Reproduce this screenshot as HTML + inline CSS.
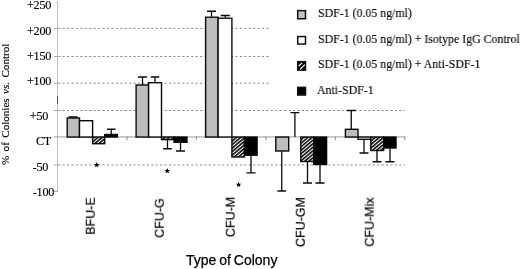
<!DOCTYPE html>
<html><head><meta charset="utf-8"><title>chart</title>
<style>
html,body{margin:0;padding:0;background:#fff;}
body{width:520px;height:269px;position:relative;overflow:hidden;font-family:"Liberation Serif",serif;color:#000;}
.t{position:absolute;white-space:nowrap;line-height:1;opacity:0.999;will-change:transform;-webkit-text-stroke:0.15px #000;}
.yl{font-family:"Liberation Serif",serif;font-size:12.2px;letter-spacing:-0.3px;text-align:right;width:40px;left:9.5px;}
.lg{font-family:"Liberation Serif",serif;font-size:12.9px;left:317.5px;transform:scaleX(0.919);transform-origin:0 0;}
.xl{font-family:"Liberation Sans",sans-serif;font-size:12.5px;transform:translate(-50%,-50%) rotate(-90deg);-webkit-text-stroke:0.2px #000;}
</style></head><body>
<svg width="520" height="269" viewBox="0 0 520 269" style="position:absolute;left:0;top:0">
<defs><pattern id="hatch" width="2.7" height="2.7" patternUnits="userSpaceOnUse" patternTransform="rotate(-40)"><rect width="2.7" height="2.7" fill="#fff"/><rect width="2.7" height="1.55" fill="#000"/></pattern></defs>
<line x1="62.6" y1="28.4" x2="405" y2="28.4" stroke="#8e8e8e" stroke-width="1" stroke-dasharray="2.2 2.23"/>
<line x1="54" y1="28.4" x2="60.6" y2="28.4" stroke="#9a9a9a" stroke-width="0.9"/>
<line x1="62.6" y1="56.5" x2="405" y2="56.5" stroke="#8e8e8e" stroke-width="1" stroke-dasharray="2.2 2.23"/>
<line x1="54" y1="56.5" x2="60.6" y2="56.5" stroke="#9a9a9a" stroke-width="0.9"/>
<line x1="62.6" y1="83.2" x2="405" y2="83.2" stroke="#8e8e8e" stroke-width="1" stroke-dasharray="2.2 2.23"/>
<line x1="54" y1="83.2" x2="60.6" y2="83.2" stroke="#9a9a9a" stroke-width="0.9"/>
<line x1="62.6" y1="110.5" x2="405" y2="110.5" stroke="#8e8e8e" stroke-width="1" stroke-dasharray="2.2 2.23"/>
<line x1="54" y1="110.5" x2="60.6" y2="110.5" stroke="#9a9a9a" stroke-width="0.9"/>
<line x1="62.6" y1="164.95" x2="405" y2="164.95" stroke="#8e8e8e" stroke-width="1" stroke-dasharray="2.2 2.23"/>
<line x1="54" y1="164.95" x2="60.6" y2="164.95" stroke="#9a9a9a" stroke-width="0.9"/>
<rect x="270" y="0" width="250" height="104" fill="#fff"/>
<line x1="57.6" y1="1.5" x2="57.6" y2="191.4" stroke="#b0b0b0" stroke-width="0.9"/>
<line x1="55.5" y1="1.9" x2="57.6" y2="1.9" stroke="#c8c8c8" stroke-width="0.8"/>
<line x1="57.5" y1="96" x2="57.5" y2="104" stroke="#555" stroke-width="1"/>
<line x1="54" y1="136.95000000000002" x2="405.5" y2="136.95000000000002" stroke="#808080" stroke-width="0.8"/>
<line x1="54" y1="191.3" x2="58" y2="191.3" stroke="#9a9a9a" stroke-width="1"/>
<line x1="126.95" y1="136.65" x2="126.95" y2="140.15" stroke="#808080" stroke-width="0.9"/>
<line x1="196.40" y1="136.65" x2="196.40" y2="140.15" stroke="#808080" stroke-width="0.9"/>
<line x1="265.85" y1="136.65" x2="265.85" y2="140.15" stroke="#808080" stroke-width="0.9"/>
<line x1="335.30" y1="136.65" x2="335.30" y2="140.15" stroke="#808080" stroke-width="0.9"/>
<line x1="404.75" y1="136.65" x2="404.75" y2="140.15" stroke="#808080" stroke-width="0.9"/>
<path d="M73.1 118V117M68.6 117H77.6" stroke="#0a0a0a" stroke-width="1.3" fill="none"/>
<path d="M111.25 134.5V129.25M106.95 129.25H115.55" stroke="#0a0a0a" stroke-width="1.3" fill="none"/>
<path d="M142.5 85V77M138.0 77H147.0" stroke="#0a0a0a" stroke-width="1.3" fill="none"/>
<path d="M155 82.5V77M150.7 77H159.3" stroke="#0a0a0a" stroke-width="1.3" fill="none"/>
<path d="M167.5 139.5V148.75M163.2 148.75H171.8" stroke="#0a0a0a" stroke-width="1.3" fill="none"/>
<path d="M180.5 142.5V151M176.0 151H185.0" stroke="#0a0a0a" stroke-width="1.3" fill="none"/>
<path d="M211.5 16.75V11.25M207.0 11.25H216.0" stroke="#0a0a0a" stroke-width="1.3" fill="none"/>
<path d="M225.3 17.5V15.5M220.8 15.5H229.8" stroke="#0a0a0a" stroke-width="1.3" fill="none"/>
<path d="M251.0 155.5V172.9M246.4 172.9H255.6" stroke="#0a0a0a" stroke-width="1.3" fill="none"/>
<path d="M281.75 151.25V191M277.45 191H286.05" stroke="#0a0a0a" stroke-width="1.3" fill="none"/>
<path d="M294.9 137V112.6M290.5 112.6H299.29999999999995" stroke="#0a0a0a" stroke-width="1.3" fill="none"/>
<path d="M307.5 161.25V183M303.0 183H312.0" stroke="#0a0a0a" stroke-width="1.3" fill="none"/>
<path d="M320 164.5V183M315.5 183H324.5" stroke="#0a0a0a" stroke-width="1.3" fill="none"/>
<path d="M351.25 129V110.5M346.75 110.5H355.75" stroke="#0a0a0a" stroke-width="1.3" fill="none"/>
<path d="M364 139.25V153M359.5 153H368.5" stroke="#0a0a0a" stroke-width="1.3" fill="none"/>
<path d="M377 150.75V161.75M372.5 161.75H381.5" stroke="#0a0a0a" stroke-width="1.3" fill="none"/>
<path d="M390 148.25V161.75M385.5 161.75H394.5" stroke="#0a0a0a" stroke-width="1.3" fill="none"/>
<rect x="67.20" y="118.00" width="12.30" height="19.05" fill="#bdbdbd" stroke="#0a0a0a" stroke-width="1.4"/>
<rect x="79.50" y="120.70" width="13.10" height="16.35" fill="#ffffff" stroke="#0a0a0a" stroke-width="1.4"/>
<rect x="92.60" y="137.05" width="12.10" height="6.65" fill="url(#hatch)" stroke="#0a0a0a" stroke-width="1.4"/>
<rect x="104.70" y="134.50" width="12.70" height="2.55" fill="#000000" stroke="#0a0a0a" stroke-width="1.4"/>
<rect x="136.10" y="85.00" width="12.50" height="52.05" fill="#bdbdbd" stroke="#0a0a0a" stroke-width="1.4"/>
<rect x="148.60" y="82.70" width="12.90" height="54.35" fill="#ffffff" stroke="#0a0a0a" stroke-width="1.4"/>
<rect x="161.50" y="137.05" width="12.50" height="2.55" fill="url(#hatch)" stroke="#0a0a0a" stroke-width="1.4"/>
<rect x="174.00" y="137.05" width="13.00" height="5.25" fill="#000000" stroke="#0a0a0a" stroke-width="1.4"/>
<rect x="205.60" y="17.20" width="12.50" height="119.85" fill="#bdbdbd" stroke="#0a0a0a" stroke-width="1.4"/>
<rect x="218.10" y="18.20" width="13.80" height="118.85" fill="#ffffff" stroke="#0a0a0a" stroke-width="1.4"/>
<rect x="231.90" y="137.05" width="12.60" height="19.95" fill="url(#hatch)" stroke="#0a0a0a" stroke-width="1.4"/>
<rect x="244.50" y="137.05" width="12.60" height="18.15" fill="#000000" stroke="#0a0a0a" stroke-width="1.4"/>
<rect x="275.80" y="137.05" width="12.90" height="13.95" fill="#bdbdbd" stroke="#0a0a0a" stroke-width="1.4"/>
<rect x="300.80" y="137.05" width="13.00" height="24.45" fill="url(#hatch)" stroke="#0a0a0a" stroke-width="1.4"/>
<rect x="313.80" y="137.05" width="12.80" height="27.45" fill="#000000" stroke="#0a0a0a" stroke-width="1.4"/>
<rect x="345.40" y="129.30" width="12.60" height="7.75" fill="#bdbdbd" stroke="#0a0a0a" stroke-width="1.4"/>
<rect x="358.00" y="137.05" width="12.80" height="2.25" fill="#ffffff" stroke="#0a0a0a" stroke-width="1.4"/>
<rect x="370.80" y="137.05" width="12.90" height="13.45" fill="url(#hatch)" stroke="#0a0a0a" stroke-width="1.4"/>
<rect x="383.70" y="137.05" width="12.30" height="10.95" fill="#000000" stroke="#0a0a0a" stroke-width="1.4"/>
<polygon points="96.70,162.10 97.47,163.94 99.46,164.10 97.94,165.40 98.40,167.35 96.70,166.31 95.00,167.35 95.46,165.40 93.94,164.10 95.93,163.94" fill="#000"/>
<polygon points="167.30,168.10 168.07,169.94 170.06,170.10 168.54,171.40 169.00,173.35 167.30,172.31 165.60,173.35 166.06,171.40 164.54,170.10 166.53,169.94" fill="#000"/>
<polygon points="238.60,181.80 239.37,183.64 241.36,183.80 239.84,185.10 240.30,187.05 238.60,186.00 236.90,187.05 237.36,185.10 235.84,183.80 237.83,183.64" fill="#000"/>
<rect x="297.7" y="10.65" width="7.80" height="8.10" fill="#c4c4c4" stroke="#111" stroke-width="1.5"/>
<rect x="297.7" y="36.55" width="7.80" height="7.50" fill="#ffffff" stroke="#111" stroke-width="1.5"/>
<rect x="297.7" y="61.65" width="7.80" height="8.50" fill="#000" stroke="#111" stroke-width="1.5"/>
<path d="M298.5 66.2L302.0 63.0M300.0 69.4L304.9 64.6" stroke="#fff" stroke-width="1.15" fill="none"/>
<rect x="297.7" y="87.35" width="7.80" height="7.70" fill="#000000" stroke="#111" stroke-width="1.5"/>
</svg>
<div class="t yl" style="top:-1.5px;left:10.95px">+250</div>
<div class="t yl" style="top:24.7px;left:10.80px">+200</div>
<div class="t yl" style="top:49.9px;left:10.95px">+150</div>
<div class="t yl" style="top:75.25px;left:10.95px">+100</div>
<div class="t yl" style="top:109.6px;left:7.70px">+50</div>
<div class="t yl" style="top:135.4px;left:10.95px">CT</div>
<div class="t yl" style="top:160.8px;left:7.55px">-50</div>
<div class="t yl" style="top:186.2px;left:13.50px">-100</div>
<div class="t" id="ytitle" style="font-size:11.1px;word-spacing:1.6px;left:0.3px;top:165.0px;transform-origin:0 0;transform:rotate(-90deg);">% of Colonies <i>vs.</i> Control</div>
<div class="t lg" style="top:7.2px">SDF-1 (0.05 ng/ml)</div>
<div class="t lg" style="top:32.5px">SDF-1 (0.05 ng/ml) + Isotype IgG Control</div>
<div class="t lg" style="top:57.9px">SDF-1 (0.05 ng/ml) + Anti-SDF-1</div>
<div class="t lg" style="top:83.7px;left:316.7px">Anti-SDF-1</div>
<div class="t xl" style="left:91.2px;top:216.2px">BFU-E</div>
<div class="t xl" style="left:160.1px;top:217.8px">CFU-G</div>
<div class="t xl" style="left:230.6px;top:217.2px">CFU-M</div>
<div class="t xl" style="left:300.7px;top:221.5px">CFU-GM</div>
<div class="t xl" style="left:369.8px;top:221.5px">CFU-Mix</div>
<div class="t" id="xtitle" style="font-family:'Liberation Sans',sans-serif;font-size:14px;word-spacing:-1px;left:185.8px;top:252.7px;-webkit-text-stroke:0.25px #000;">Type of Colony</div>
</body></html>
